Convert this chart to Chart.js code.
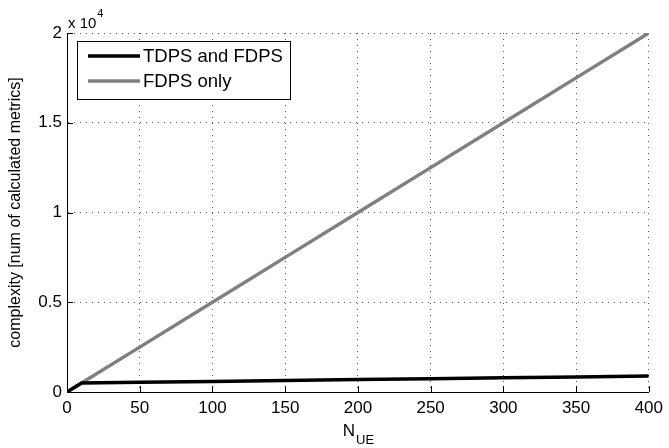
<!DOCTYPE html>
<html>
<head>
<meta charset="utf-8">
<script src="https://cdn.jsdelivr.net/npm/chart.js@4/dist/chart.umd.min.js"></script>
<style>
  html, body { margin: 0; padding: 0; background: #fff; }
  canvas { display: block; }
</style>
</head>
<body>
<canvas id="complexityChart" width="669" height="448"></canvas>
<script>
// number of UEs and the metric counts for each scheduler
const nUE = [0, 10, 50, 100, 150, 200, 250, 300, 350, 400];
const tdpsFdps = [0, 500, 540, 590, 640, 690, 740, 790, 840, 890];
const fdpsOnly = [0, 500, 2500, 5000, 7500, 10000, 12500, 15000, 17500, 20000];

const seriesLabels = ['TDPS and FDPS', 'FDPS only'];
const seriesColors = ['#000000', '#808080'];

const xTicks = [0, 50, 100, 150, 200, 250, 300, 350, 400];
const yTicks = [0, 5000, 10000, 15000, 20000];
const yTickLabels = ['0', '0.5', '1', '1.5', '2'];

const FONT = "'Liberation Sans', Arial, Helvetica, sans-serif";

function toPoints(ys) {
    return nUE.map((x, i) => ({ x: x, y: ys[i] }));
}

// axes decorations: inward ticks, exponent, x label with subscript, boxed legend
const matlabDecor = {
    id: 'matlabDecor',
    afterDraw(chart) {
        const ctx = chart.ctx;
        const xs = chart.scales.x;
        const ys = chart.scales.y;
        const area = chart.chartArea;

        ctx.save();
        ctx.strokeStyle = '#000';
        ctx.lineWidth = 1;
        ctx.beginPath();
        xTicks.forEach(v => {
            const px = Math.round(xs.getPixelForValue(v)) + 0.5;
            ctx.moveTo(px, area.bottom);
            ctx.lineTo(px, area.bottom - 6);
        });
        yTicks.forEach(v => {
            const py = Math.round(ys.getPixelForValue(v)) + 0.5;
            ctx.moveTo(area.left, py);
            ctx.lineTo(area.left + 6, py);
        });
        ctx.stroke();

        // x 10^4 multiplier
        ctx.fillStyle = '#000';
        ctx.textBaseline = 'alphabetic';
        ctx.textAlign = 'left';
        ctx.font = '15px ' + FONT;
        ctx.fillText('x 10', 68, 28);
        const w10 = ctx.measureText('x 10').width;
        ctx.font = '11px ' + FONT;
        ctx.fillText('4', 68 + w10 + 1, 17);

        // N_UE axis label
        const cx = (area.left + area.right) / 2;
        ctx.font = '17px ' + FONT;
        const wN = ctx.measureText('N').width;
        ctx.font = '13px ' + FONT;
        const wUE = ctx.measureText('UE').width;
        const startX = cx - (wN + wUE) / 2;
        ctx.font = '17px ' + FONT;
        ctx.fillText('N', startX, 436);
        ctx.font = '13px ' + FONT;
        ctx.fillText('UE', startX + wN + 1, 444);

        // legend box
        const lx = 77, ly = 41, lw = 213, lh = 58;
        ctx.fillStyle = '#fff';
        ctx.fillRect(lx, ly, lw, lh);
        ctx.strokeStyle = '#000';
        ctx.lineWidth = 1;
        ctx.strokeRect(lx + 0.5, ly + 0.5, lw, lh);
        ctx.font = '18.5px ' + FONT;
        ctx.textBaseline = 'middle';
        chart.data.datasets.forEach((ds, i) => {
            const y = 56 + i * 25;
            ctx.strokeStyle = ds.borderColor;
            ctx.lineWidth = 3.5;
            ctx.beginPath();
            ctx.moveTo(88, y);
            ctx.lineTo(140, y);
            ctx.stroke();
            ctx.fillStyle = '#000';
            ctx.fillText(ds.label, 143, y + 1);
        });
        ctx.restore();
    }
};

const ctx = document.getElementById('complexityChart').getContext('2d');

new Chart(ctx, {
    type: 'line',
    data: {
        datasets: [
            {
                label: seriesLabels[0],
                data: toPoints(tdpsFdps),
                borderColor: seriesColors[0],
                borderWidth: 3.5,
                pointRadius: 0,
                tension: 0,
                fill: false
            },
            {
                label: seriesLabels[1],
                data: toPoints(fdpsOnly),
                borderColor: seriesColors[1],
                borderWidth: 3.5,
                pointRadius: 0,
                tension: 0,
                fill: false
            }
        ]
    },
    options: {
        responsive: false,
        devicePixelRatio: 1,
        animation: false,
        layout: { padding: { top: 33, right: 16, left: 0, bottom: 0 } },
        plugins: {
            legend: { display: false },
            tooltip: { enabled: false }
        },
        scales: {
            x: {
                type: 'linear',
                min: 0,
                max: 400,
                afterBuildTicks: scale => { scale.ticks = xTicks.map(v => ({ value: v })); },
                afterFit: scale => { scale.height = 56; },
                ticks: {
                    color: '#000',
                    padding: 6,
                    maxRotation: 0,
                    font: { family: FONT, size: 17 }
                },
                grid: { color: '#555', lineWidth: 1, drawTicks: false },
                border: { display: true, color: '#000', width: 1, dash: [1, 5] }
            },
            y: {
                type: 'linear',
                min: 0,
                max: 20000,
                afterBuildTicks: scale => { scale.ticks = yTicks.map(v => ({ value: v })); },
                afterFit: scale => { scale.width = 67; },
                ticks: {
                    color: '#000',
                    padding: 5,
                    font: { family: FONT, size: 17 },
                    callback: (value) => yTickLabels[yTicks.indexOf(value)]
                },
                grid: { color: '#555', lineWidth: 1, drawTicks: false },
                border: { display: true, color: '#000', width: 1, dash: [1, 5] },
                title: {
                    display: true,
                    text: 'complexity [num of calculated metrics]',
                    color: '#000',
                    font: { family: FONT, size: 16 },
                    padding: { top: 6, bottom: 0 }
                }
            }
        }
    },
    plugins: [matlabDecor]
});
</script>
</body>
</html>
